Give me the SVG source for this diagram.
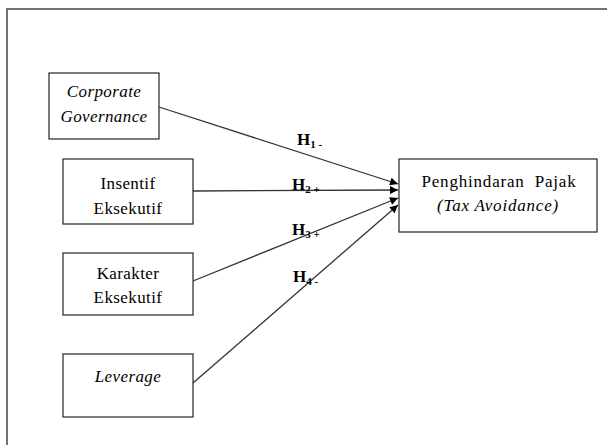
<svg xmlns="http://www.w3.org/2000/svg" width="607" height="445" viewBox="0 0 607 445">
<style>
.box{fill:#fff;stroke:#333;stroke-width:1.3}
.t{font-family:"Liberation Serif","Times New Roman",serif;font-size:17px;letter-spacing:0.4px;fill:#000;text-anchor:middle}
.i{font-style:italic}
.w{letter-spacing:0.8px}
.h{font-family:"Liberation Serif","Times New Roman",serif;font-size:17px;font-weight:bold;fill:#000}
.s{font-size:11px}
.c{stroke:#333;stroke-width:1.3;fill:none;marker-end:url(#ah)}
</style>
<defs>
<marker id="ah" viewBox="0 0 10 10" refX="10" refY="5" markerWidth="9" markerHeight="8" markerUnits="userSpaceOnUse" orient="auto">
<path d="M0,0 L10,5 L0,10 z" fill="#000"/>
</marker>
</defs>
<rect x="7" y="9" width="640" height="470" fill="none" stroke="#444" stroke-width="1.5"/>
<g id="connectors">
<line class="c" x1="159" y1="107" x2="398" y2="184"/>
<line class="c" x1="193" y1="191" x2="398" y2="190"/>
<line class="c" x1="193" y1="281" x2="398" y2="198"/>
<line class="c" x1="193" y1="383" x2="398" y2="205"/>
</g>
<g id="labels">
<text class="h" x="297" y="145">H<tspan class="s" dy="3">1 -</tspan></text>
<text class="h" x="292" y="190">H<tspan class="s" dy="3">2 +</tspan></text>
<text class="h" x="292" y="235">H<tspan class="s" dy="3">3 +</tspan></text>
<text class="h" x="293" y="282">H<tspan class="s" dy="3">4 -</tspan></text>
</g>
<g id="n1">
<rect class="box" x="49" y="73" width="110" height="66"/>
<text class="t i" x="104" y="97">Corporate</text>
<text class="t i" x="104" y="122">Governance</text>
</g>
<g id="n2">
<rect class="box" x="63" y="159" width="130" height="65"/>
<text class="t" x="128" y="189">Insentif</text>
<text class="t" x="128" y="214">Eksekutif</text>
</g>
<g id="n3">
<rect class="box" x="63" y="253" width="130" height="62"/>
<text class="t" x="128" y="279">Karakter</text>
<text class="t" x="128" y="303">Eksekutif</text>
</g>
<g id="n4">
<rect class="box" x="63" y="354" width="130" height="63"/>
<text class="t i" x="128" y="382">Leverage</text>
</g>
<g id="n5">
<rect class="box" x="399" y="159" width="198" height="73"/>
<text class="t w" x="499" y="187" xml:space="preserve">Penghindaran  Pajak</text>
<text class="t i w" x="498" y="211">(Tax Avoidance)</text>
</g>
</svg>
